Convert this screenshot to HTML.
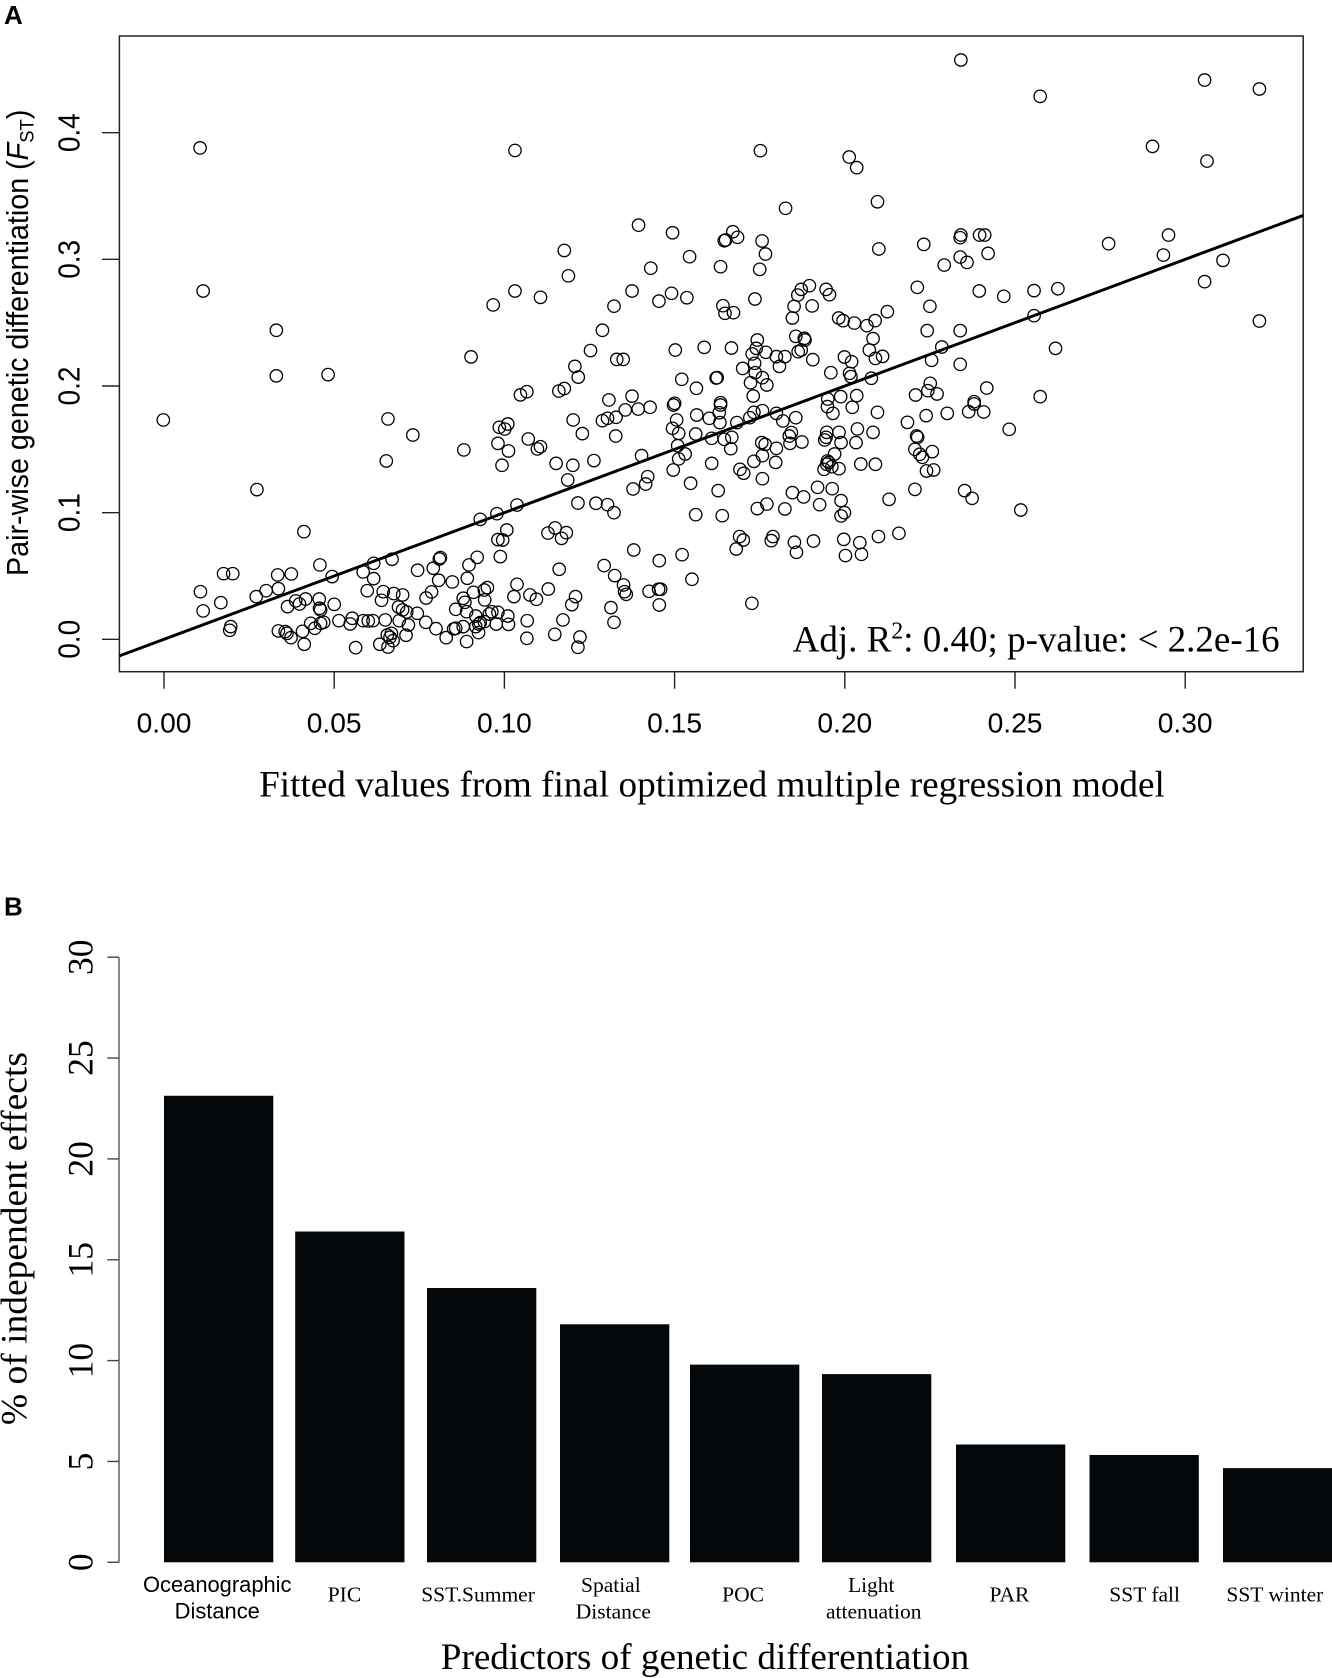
<!DOCTYPE html>
<html lang="en">
<head>
<meta charset="utf-8">
<title>Genetic differentiation regression and predictors</title>
<style>
html,body{margin:0;padding:0;background:#fff;}
svg{display:block;}
.sans{font-family:"Liberation Sans",sans-serif;fill:#000;}
.serif{font-family:"Liberation Serif",serif;fill:#000;}
</style>
</head>
<body>
<svg id="fig" xmlns="http://www.w3.org/2000/svg" width="1332" height="1678" viewBox="0 0 1332 1678">
  <rect x="0" y="0" width="1332" height="1678" fill="#fff"/>

  <text class="sans" x="4" y="24" font-size="26" font-weight="bold">A</text>
  <rect x="119.4" y="36" width="1183.8" height="635.7" fill="none" stroke="#222" stroke-width="1.5"/>
  <g id="scatterTicks"></g>
  <g id="scatterPoints"></g>
  <line id="fitLine" stroke="#000" stroke-width="3"/>
  <text class="sans" font-size="28.7" transform="translate(28,576) rotate(-90) scale(1,1.06)">Pair-wise genetic differentiation (<tspan font-style="italic">F</tspan><tspan font-size="18.5" dy="5">ST</tspan><tspan dy="-5">)</tspan></text>
  <text class="serif" x="712" y="796.7" font-size="37.2" text-anchor="middle">Fitted values from final optimized multiple regression model</text>
  <text class="serif" x="792.6" y="651.7" font-size="37">Adj. R<tspan font-size="24" dy="-13">2</tspan><tspan dy="13">: 0.40; p-value: &lt; 2.2e-16</tspan></text>

  <text class="sans" x="4" y="915.7" font-size="26" font-weight="bold">B</text>
  <g id="barAxis"></g>
  <g id="bars"></g>
  <g id="barLabels"></g>
  <text class="serif" font-size="37.5" text-anchor="middle" transform="translate(26.7,1238.6) rotate(-90)">% of independent effects</text>
  <text class="serif" x="705" y="1669" font-size="37.15" text-anchor="middle">Predictors of genetic differentiation</text>
</svg>

<script>
const fittedValues = [
.0106,.1031,.0115,.1394,.1176,.1188,.143,.1375,.1031,.0967,
.1106,.1322,.1454,.033,.1288,.033,.0482,.0902,.1253,
.133,.1349,.1207,.1217,.1047,.1066,.116,.1176,.1375,.1307,
.2341,.2574,.3057,.3218,.1752,.2013,.2035,.2904,.3064,.2096,
.1826,.1494,.1671,.165,.1646,.1685,.1757,.1767,.1544,.1635,
.175,.2232,.21,.2341,.2339,.2339,.2359,.2292,.2421,.2396,
.2411,.2775,.2951,.2936,.3111,.3057,.3218,.1491,.1536,.1642,
.1648,.1673,.1736,.1896,.1872,.1862,.1851,.1846,.1904,.1945,
.1955,.1982,.1995,.2028,.2065,.2089,.2125,.2213,.225,.2395,
.2467,.2556,.2626,.2556,.2619,.2242,.2339,.2285,.2255,.2339,
.1856,.1881,.1883,.1743,.174,.1728,.1768,.1799,.1824,.1808,
.1863,.1872,.1906,.1959,.1999,.202,.2014,.2018,.2078,.2072,
.2083,.209,.2111,.1502,.1587,.1667,.1521,.1564,.1622,.1625,
.17,.1735,.1737,.1758,.1723,.1771,.1731,.195,.1988,.2035,
.2208,.2251,.2244,.2271,.2417,.2574,.238,.15,.1635,
-.0002,.0658,.0731,.0653,.0273,.0411,.0881,.0985,.101,.1001,
.0981,.1012,.0993,.107,.1097,.1106,.1152,.1201,.1186,.1202,
.1229,.1263,.1288,.1303,.1328,.1327,.1355,.1393,.1428,.1403,
.1421,.1415,.1378,.1216,.1269,.1303,.1322,.1037,.0978,.0929,
.1007,.0981,.0995,.0988,.1128,.1149,.1182,.1168,.1161,.092,
.0896,.0891,.0812,.0809,.0791,.0745,.0807,.0847,.0786,.077,
.0616,.067,.0585,.0616,.0458,.0494,.0334,.0374,.0175,.0202,
.0107,.0115,.0167,.0271,.03,.0336,.0387,.0398,.0416,.0363,
.0456,.0457,.046,.05,.0597,.0644,.0639,.0675,.0701,.0689,
.0701,.0713,.0744,.0691,.0718,.0769,.065,.0614,.06,.0585,
.0553,.0547,.0514,.0469,.046,.0431,.0443,.0407,.0336,.0356,
.0361,.0373,.0412,.0196,.0193,.0563,.0634,.0658,.0673,.0656,
.0668,.0664,.0711,.0799,.0829,.0851,.0857,.0879,.0889,.0857,
.0879,.0884,.0889,.0909,.0941,.095,.0942,.0916,.0916,.0925,
.0929,.0924,.0941,.0956,.0963,.0981,.0976,.101,.1012,.1037,
.1028,.1075,.1094,.1129,.1067,.1066,.1148,.1172,.1198,.1209,
.1222,.1216,.1313,.1322,.1293,.1324,.135,.1353,.1358,.138,
.1455,.1425,.1453,.1459,.1455,
.1497,.1635,.1949,.1965,.2022,.2096,.2184,.2239,.2301,.2364,
.2408,.238,.2483,.1565,.1602,.1631,.1633,.1506,.1494,.1512,
.1562,.1609,.1646,.1668,.1665,.1509,.1531,.1512,.1496,.1609,
.1683,.1721,.1733,.1758,.1799,.1818,.1856,.1843,.1837,.1839,
.1874,.1756,.1766,.1799,.1758,.1733,.1797,.1692,.1703,.1758,
.1547,.1628,.1562,.164,.1522,.1551,.1727,.1691,
.1702,.1681,.1789,.1784,.1852,.1858,.1908,.1997,.2044,.2002,
.2049,.2099,.2159,.1743,.1771,.1824,.1846,.1879,.192,.1963,
.1926,.1989,.1999,.1989,.213,.2206,.2352,.2374,.2517,.1947,
.1945,.1941,.1983,.1989,.2033,.2037,.2083,.197,.1949,.1953,
.1947,.1939,.1962,.1983,.2047,.209,.2211,.2214,.2206,.222,
.2228,.2257,.224,.2261
];

const fstValues = [
.388,.386,.275,.327,.307,.287,.293,.275,.275,.264,
.27,.263,.267,.244,.244,.208,.209,.223,.228,
.221,.221,.2155,.207,.193,.1955,.196,.198,.192,.189,
.4574,.4287,.4416,.4345,.3858,.3808,.3724,.3892,.3776,.3455,
.3403,.321,.3218,.3153,.3147,.3174,.3145,.3042,.3021,.2942,
.2921,.3118,.3082,.3192,.3171,.3018,.2976,.2955,.3047,.3192,
.3192,.3124,.3192,.3034,.2992,.2824,.2513,.2732,.2697,.2634,
.2574,.2579,.2687,.2792,.2763,.2718,.2629,.2537,.2632,.2763,
.2721,.2537,.2516,.2497,.2476,.2516,.2587,.2779,.2629,.275,
.2708,.2753,.2768,.2555,.2297,.2437,.2437,.2308,.2203,.2171,
.2392,.2376,.2363,.2363,.2297,.2253,.2266,.2232,.2232,.2155,
.2271,.2284,.2208,.2105,.2229,.2192,.21,.2074,.2061,.2284,
.2374,.2218,.2234,.2284,.2305,.23,.2053,.1982,.2063,.2066,
.2139,.2179,.2105,.2066,.2026,.2008,.1921,.1897,.1916,.1924,
.1929,.2021,.1963,.1937,.1984,.1916,.1876,.1863,.1868,
.1732,.174,.1613,.1408,.1182,.085,.1495,.1674,.17,.166,
.1547,.1487,.1374,.1582,.1503,.1521,.1389,.1374,.1258,.1732,
.1624,.1411,.1726,.1745,.1753,.1605,.1811,.1818,.1832,.145,
.1284,.1226,.1187,.1076,.1074,.1063,.1,.106,.0992,.0947,
.0863,.0787,.0784,.0653,.0839,.0879,.0842,.0797,.0553,.0647,
.0587,.0482,.0645,.0634,.0561,.0545,.0466,.0453,.0374,.0326,
.06,.0632,.0532,.0479,.0587,.0495,.0508,.0516,.0518,.0518,
.0376,.0224,.0289,.0337,.0384,.04,.0303,.0279,.0318,.0258,
.0318,.0245,.0232,.0276,.0384,.0376,.0308,.0361,.035,.0255,
.0232,.0216,.0205,.0147,.0113,.0134,.0153,.0147,.0145,.0147,
.0166,.0121,.0147,.0134,.0126,.0126,.0087,.0063,.0066,.0061,
.0047,.0013,-.0039,.01,.0071,-.0066,-.0039,-.0061,-.0011,.0034,
.0047,.0016,.0032,.0084,.0013,.0082,.0087,.01,-.0018,.0237,
.0324,.0292,.0218,.0371,.0389,.0408,.0311,.0184,.01,.0121,
.0132,.0053,.0139,.02,.0218,.0213,.0121,.0184,.0118,.0434,
.0337,.035,.0316,.0397,.0147,.0008,.0039,.0153,.0274,.0337,
.0018,-.0063,.025,.0134,.0582,.0503,.0429,.0376,.0355,.0705,
.0621,.0379,.0395,.0395,.0271,
.185,.185,.1837,.1784,.1832,.1792,.1713,.1766,.1784,.1797,
.1795,.1858,.1658,.1771,.1745,.1789,.1711,.1732,.1666,.1626,
.1621,.1587,.1579,.1595,.1505,.1529,.1463,.1424,.1337,.1389,
.1711,.175,.1792,.1805,.1784,.1724,.175,.1632,.1605,.1547,
.1558,.1553,.1539,.1508,.145,.1405,.1397,.1342,.1311,.1268,
.1232,.1174,.0984,.0976,.0668,.0474,.0284,.0811,
.0784,.0713,.0811,.0779,.0766,.0687,.0776,.0789,.0763,.0661,
.0671,.0811,.0837,.1032,.1068,.1029,.1158,.1124,.12,.1189,
.1063,.1095,.1,.0974,.1105,.1184,.1174,.1113,.1021,.1634,
.1595,.1574,.1634,.1553,.1553,.1661,.1634,.1463,.1408,.1397,
.1382,.1342,.1363,.1347,.1384,.1382,.1605,.1595,.15,.1461,
.1437,.1482,.1329,.1337
];

const xTickValues = [0, 0.05, 0.10, 0.15, 0.20, 0.25, 0.30];
const xTickLabels = ["0.00", "0.05", "0.10", "0.15", "0.20", "0.25", "0.30"];
const yTickValues = [0, 0.1, 0.2, 0.3, 0.4];
const yTickLabels = ["0.0", "0.1", "0.2", "0.3", "0.4"];
const fitIntercept = 0;
const fitSlope = 1;

const categories = [
  ["Oceanographic", "Distance"], ["PIC"], ["SST.Summer"], ["Spatial", "Distance"], ["POC"],
  ["Light", "attenuation"], ["PAR"], ["SST fall"], ["SST winter"]
];
const effectValues = [23.13, 16.4, 13.6, 11.8, 9.8, 9.33, 5.84, 5.32, 4.67];
const effectTicks = [0, 5, 10, 15, 20, 25, 30];

const NS = "http://www.w3.org/2000/svg";
const sx = v => 164 + 3404 * v;
const sy = v => 639.3 - 1266.5 * v;
const by = v => 1562.3 - 20.17 * v;

function make(tag, attrs, parent, text) {
  const el = document.createElementNS(NS, tag);
  for (const k in attrs) el.setAttribute(k, attrs[k]);
  if (text !== undefined) el.textContent = text;
  parent.appendChild(el);
  return el;
}

const scatterTicks = document.getElementById("scatterTicks");
xTickValues.forEach((v, i) => {
  const tick = make("line", {x1: sx(v), x2: sx(v), y1: 671.7, y2: 688.7, stroke: "#222", "stroke-width": 1.4}, scatterTicks);
  
  
  const label = make("text", {x: sx(v), y: 732.7, "font-size": 28.2, "text-anchor": "middle", class: "sans"}, scatterTicks, xTickLabels[i]);
  
  
});
yTickValues.forEach((v, i) => {
  const tick = make("line", {x1: 102, x2: 119.4, y1: sy(v), y2: sy(v), stroke: "#222", "stroke-width": 1.4}, scatterTicks);
  
  
  const label = make("text", {"font-size": 28, "text-anchor": "middle", class: "sans", transform: "translate(79.4," + sy(v) + ") rotate(-90) scale(1,1.1)"}, scatterTicks, yTickLabels[i]);
  
  
});

const scatterPoints = document.getElementById("scatterPoints");
fittedValues.forEach((v, i) => {
  const pt = make("circle", {cx: sx(v), cy: sy(fstValues[i]), r: 6.2, fill: "none", stroke: "#000", "stroke-width": 1.3}, scatterPoints);
  
  
});

const xLeft = (119.4 - 164) / 3404;
const xRight = (1303.2 - 164) / 3404;
const fit = document.getElementById("fitLine");
fit.setAttribute("x1", sx(xLeft));
fit.setAttribute("y1", sy(fitIntercept + fitSlope * xLeft));
fit.setAttribute("x2", sx(xRight));
fit.setAttribute("y2", sy(fitIntercept + fitSlope * xRight));

const barAxis = document.getElementById("barAxis");
const axisLine = make("line", {x1: 119, x2: 119, y1: by(30), y2: by(0), stroke: "#555", "stroke-width": 1.4}, barAxis);


effectTicks.forEach(v => {
  const tick = make("line", {x1: 107.3, x2: 119, y1: by(v), y2: by(v), stroke: "#444", "stroke-width": 1.4}, barAxis);
  
  
  const label = make("text", {"font-size": 35.5, "text-anchor": "middle", class: "serif", transform: "translate(92.7," + by(v) + ") rotate(-90)"}, barAxis, String(v));
  
  
});

const bars = document.getElementById("bars");
const barLabels = document.getElementById("barLabels");
const step = 132.2, first = 163.5, width = 109.3;

function drawBars() {
  const placementNudge = [0.5, -0.5, -0.9, -0.1, -2.3, -2.5, -0.7, 0.6, 1.9];
  effectValues.forEach((v, i) => {
    const x = first + step * i + placementNudge[i];
    const bar = make("rect", {x: x, y: by(v), width: width, height: by(0) - by(v), fill: "#05080a"}, bars);
    
    
  });
}

function drawBarLabels() {
  const centerShift = [-1, -6, -4.6, -3, -4, -7, -2, 1, -1];
  categories.forEach((lines, i) => {
    const cx = first + step * i + 54.75 + centerShift[i];
    lines.forEach((line, j) => {
      const isSans = i === 0;
      const baseline = lines.length === 1 ? 1601.5 : (j === 0 ? 1592 : 1618.6);
      const lineShift = (lines.length === 2 && !isSans) ? (j === 0 ? -1 : 1.5) : 0;
      const label = make("text", {x: cx + lineShift, y: baseline, "font-size": isSans ? 21.9 : 21.5, "text-anchor": "middle", class: isSans ? "sans" : "serif"}, barLabels, line);
      
      
    });
  });
}
drawBars();
drawBarLabels();
</script>
</body>
</html>
